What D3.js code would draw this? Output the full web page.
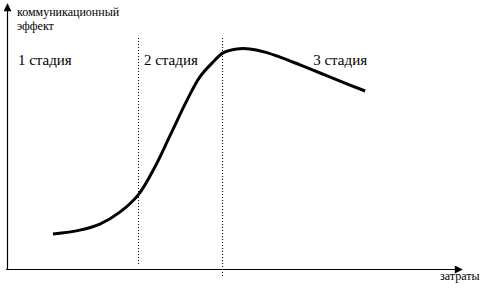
<!DOCTYPE html>
<html>
<head>
<meta charset="utf-8">
<script src="https://cdn.jsdelivr.net/npm/d3@7"></script>
<style>
  body { margin: 0; background: #fff; }
</style>
</head>
<body>
<div id="chart"></div>
<script>
// data (затраты on x, эффект on y, both 0..100)
var costs   = [10.1, 16.0, 20.4, 24.8, 28.8, 32.5, 35.8, 39.6, 42.4, 45.3, 47.5, 50.5, 53.4, 56.7, 60.0, 64.4, 68.8, 73.2, 78.7];
var effects = [13.4, 14.9, 17.2, 21.8, 28.3, 39.1, 51.0, 64.8, 73.6, 79.3, 82.8, 84.3, 84.3, 83.1, 81.2, 78.2, 75.1, 72.0, 68.2];
var stageBounds = [28.8, 47.3];
var stageLabels = ["1 стадия", "2 стадия", "3 стадия"];
var stageLabelX = [2.4, 30.1, 67.3];
var yLabel = ["коммуникационный", "эффект"];
var xLabel = "затраты";

var width = 501, height = 288;

var svg = d3.select("#chart")
    .append("svg")
    .attr("width", width)
    .attr("height", height)
    .attr("font-family", "'Times New Roman', 'Liberation Serif', serif");

var x = d3.scaleLinear().domain([0, 100]).range([7, 462]);
var y = d3.scaleLinear().domain([0, 100]).range([269, 8]);

// arrow marker
svg.append("defs").append("marker")
    .attr("id", "arrow")
    .attr("viewBox", "0 0 10 10")
    .attr("refX", 9)
    .attr("refY", 5)
    .attr("markerUnits", "userSpaceOnUse")
    .attr("markerWidth", 10)
    .attr("markerHeight", 8)
    .attr("orient", "auto")
    .append("path")
    .attr("d", "M0,0L10,5L0,10Z")
    .attr("fill", "#000");

// axes
svg.append("line")
    .attr("x1", x(0) - 1).attr("y1", y(0) + 0.5)
    .attr("x2", x(100)).attr("y2", y(0) + 0.5)
    .attr("stroke", "#000")
    .attr("stroke-width", 1.2)
    .attr("marker-end", "url(#arrow)");

svg.append("line")
    .attr("x1", x(0) + 0.5).attr("y1", y(0) + 1)
    .attr("x2", x(0) + 0.5).attr("y2", y(100) - 4)
    .attr("stroke", "#000")
    .attr("stroke-width", 1.2)
    .attr("marker-end", "url(#arrow)");

// stage boundaries
svg.selectAll(".stage")
    .data(stageBounds)
    .enter().append("line")
    .attr("class", "stage")
    .attr("x1", function(d) { return Math.round(x(d)) + 0.5; })
    .attr("x2", function(d) { return Math.round(x(d)) + 0.5; })
    .attr("y1", y(88.5))
    .attr("y2", function(d, i) { return i == 0 ? y(1.5) : y(-2.7); })
    .attr("stroke", "#000")
    .attr("stroke-width", 1)
    .attr("stroke-dasharray", "1,2");

// stage labels
svg.selectAll(".stage-label")
    .data(stageLabels)
    .enter().append("text")
    .attr("x", function(d, i) { return x(stageLabelX[i]); })
    .attr("y", 65)
    .attr("font-size", "15px")
    .text(function(d) { return d; });

// axis labels
svg.selectAll(".ylab")
    .data(yLabel)
    .enter().append("text")
    .attr("x", 17)
    .attr("y", function(d, i) { return 16 + i * 14; })
    .attr("font-size", "12px")
    .text(function(d) { return d; });

svg.append("text")
    .attr("x", 440)
    .attr("y", 280)
    .attr("font-size", "12px")
    .text(xLabel);

// the curve
var points = costs.map(function(c, i) { return [c, effects[i]]; });
svg.append("path")
    .datum(points)
    .attr("fill", "none")
    .attr("stroke", "#000")
    .attr("stroke-width", 3)
    .attr("d", d3.line()
        .x(function(d) { return x(d[0]); })
        .y(function(d) { return y(d[1]); })
        .curve(d3.curveCatmullRom)
    );
</script>
</body>
</html>
